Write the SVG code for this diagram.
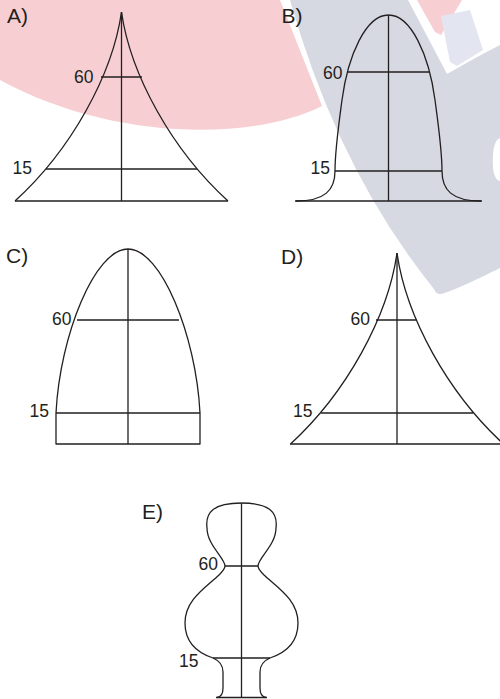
<svg xmlns="http://www.w3.org/2000/svg" width="500" height="699" viewBox="0 0 500 699">
<style>
.ln{fill:none;stroke:#231f20;stroke-width:1.3;stroke-linecap:butt;stroke-linejoin:round}
.lb{font-family:"Liberation Sans",Arial,Helvetica,sans-serif;font-size:21px;fill:#231f20}
.nm{font-family:"Liberation Sans",Arial,Helvetica,sans-serif;font-size:17.5px;fill:#231f20;text-anchor:end}
</style>
<rect width="500" height="699" fill="#ffffff"/>
<g id="watermark">
<path d="M0,0 L280,0 L322,106 C250,142 110,140 0,80 Z" fill="#f7cfd3"/>
<path d="M290,0 L410,0 L448,72 L500,45 L500,268 C480,278 455,290 441,294 C437,294 435,292 434,289 Q338,170 290,0 Z" fill="#d6d8e2"/>
<path d="M408,0 L500,0 L500,44 L447,74 Z" fill="#ffffff"/>
<path d="M417,0 L462,0 L441,35 L435,32 Z" fill="#f7cfd3"/>
<path d="M441,16 L470,10 L483,50 L457,66 L450,62 Z" fill="#e3e5f1"/>
<path d="M500,138 C494,140 492,152 493,168 C494,176 496,180 500,181 Z" fill="#ffffff"/>
</g>
<g id="panel-a">
<path class="ln" d="M121.5,12 C112.5,75 71,150 15,201 M121.5,12 C130.5,75 172,150 228,201"/>
<path class="ln" d="M121.5,12 V201 M15,201 H228 M101,77 H142 M46,169 H197"/>
<text class="lb" x="7" y="23">A)</text>
<text class="nm" x="93.5" y="82.5">60</text>
<text class="nm" x="32" y="174">15</text>
</g>
<g id="panel-b">
<path class="ln" d="M388.5,15 C366,15 348,55 342,100 C338.7,125 335,150 335,171 C335,190 325,201 296,201"/>
<path class="ln" d="M388.5,15 C411,15 429,55 435,100 C438.3,125 442,150 442,171 C442,190 452,201 481,201"/>
<path class="ln" d="M388.5,15 V201 M295,201 H482 M348,72 H429 M335,171 H442"/>
<text class="lb" x="281.5" y="23">B)</text>
<text class="nm" x="342.5" y="79">60</text>
<text class="nm" x="330" y="174">15</text>
</g>
<g id="panel-c">
<path class="ln" d="M128,249 C95,249 60,335 56,413 M128,249 C161,249 196,335 200,413"/>
<path class="ln" d="M128,249 V444 M56,413 V444 H200 V413 M77,320 H179 M56,413 H200"/>
<text class="lb" x="6" y="263">C)</text>
<text class="nm" x="71.5" y="325">60</text>
<text class="nm" x="49" y="417">15</text>
</g>
<g id="panel-d">
<path class="ln" d="M397,253 C388,316.7 346.5,392.5 290.5,444 M397,253 C406,316.7 447.5,392.5 503.5,444"/>
<path class="ln" d="M397,253 V444 M290,444 H500 M376,320 H417 M321,413 H473"/>
<text class="lb" x="281" y="264">D)</text>
<text class="nm" x="370" y="325">60</text>
<text class="nm" x="312.5" y="417">15</text>
</g>
<g id="panel-e">
<defs>
<path id="e-half" class="ln" d="M217,697.5 C221,697 223,694 223,688 L223,672 C223,665 220,661 213,658 C195,652 185,640 185,623 C185,600 205,588 219,575 Q225,569 225,566 C225,558 207,545 207,528 C205,512 214,503 241.5,503"/>
</defs>
<use href="#e-half"/>
<use href="#e-half" transform="translate(483,0) scale(-1,1)"/>
<path class="ln" d="M241.5,503 V697.5 M216,697.5 H267 M225,566 H258 M213,658 H270"/>
<text class="lb" x="142" y="519">E)</text>
<text class="nm" x="218" y="570">60</text>
<text class="nm" x="198.5" y="667">15</text>
</g>
</svg>
